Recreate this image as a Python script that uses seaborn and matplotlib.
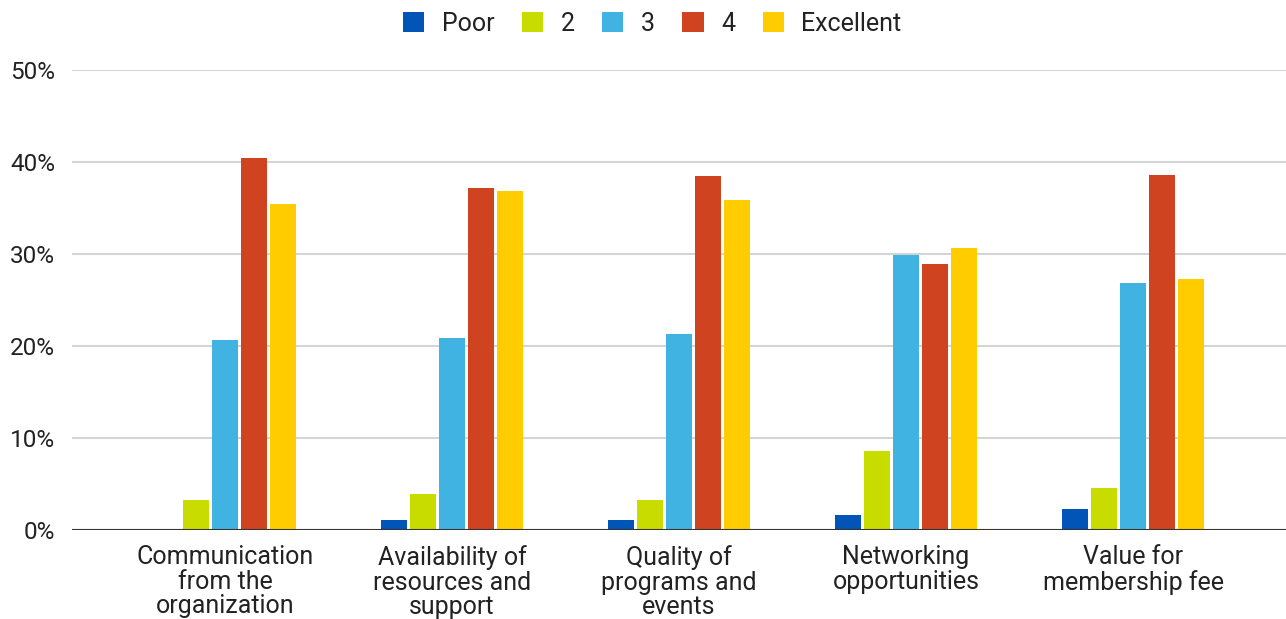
import pandas as pd
import matplotlib.pyplot as plt
import seaborn as sns
from matplotlib.ticker import PercentFormatter

# Data (percent of respondents)
categories = [
    "Communication\nfrom the\norganization",
    "Availability of\nresources and\nsupport",
    "Quality of\nprograms and\nevents",
    "Networking\nopportunities",
    "Value for\nmembership fee",
]
ratings = ["Poor", "2", "3", "4", "Excellent"]
poor = [0.0, 1.1, 1.1, 1.6, 2.3]
two = [3.3, 3.9, 3.3, 8.6, 4.6]
three = [20.7, 20.9, 21.3, 29.9, 26.8]
four = [40.4, 37.2, 38.5, 28.9, 38.6]
excellent = [35.4, 36.8, 35.9, 30.7, 27.3]
colors = ["#0055B7", "#C8DC00", "#41B3E3", "#CF4320", "#FFCC00"]

rows = []
for name, vals in zip(ratings, [poor, two, three, four, excellent]):
    for cat, v in zip(categories, vals):
        rows.append({"category": cat, "rating": name, "pct": v})
df = pd.DataFrame(rows)

sns.set_style("white")
plt.rcParams['font.family'] = ['Roboto', 'DejaVu Sans']

fig = plt.figure(figsize=(12.86, 6.19), dpi=100)
ax = fig.add_axes([0.056, 0.1438, 0.944, 0.7431])

sns.barplot(data=df, x="category", y="pct", hue="rating", hue_order=ratings,
            palette=colors, width=0.64, gap=0.1, ax=ax, legend=True,
            saturation=1, edgecolor="none")

ax.set_ylim(0, 50)
ax.set_xlim(-0.674, 4.674)
ax.set_yticks([0, 10, 20, 30, 40, 50])
ax.yaxis.set_major_formatter(PercentFormatter(decimals=0))
ax.grid(axis="y", color="#cccccc", linewidth=1.2)
ax.set_axisbelow(True)
ax.axhline(0, color="#333333", linewidth=1.5, zorder=3)
for s in ax.spines.values():
    s.set_visible(False)
ax.set_xlabel("")
ax.set_ylabel("")
ax.tick_params(axis="y", length=0, labelsize=17.5, colors="#222222", pad=12)
ax.tick_params(axis="x", length=0, labelsize=18, colors="#222222", pad=11)
for lab in ax.get_xticklabels():
    lab.set_linespacing(1.02)

ax.legend(loc="upper center", bbox_to_anchor=(0.478, 1.175), ncol=5,
          frameon=False, fontsize=18, handlelength=0.85, handleheight=0.85,
          columnspacing=1.1, handletextpad=0.7, labelcolor="#222222")

fig.savefig("out.png", dpi=100)
